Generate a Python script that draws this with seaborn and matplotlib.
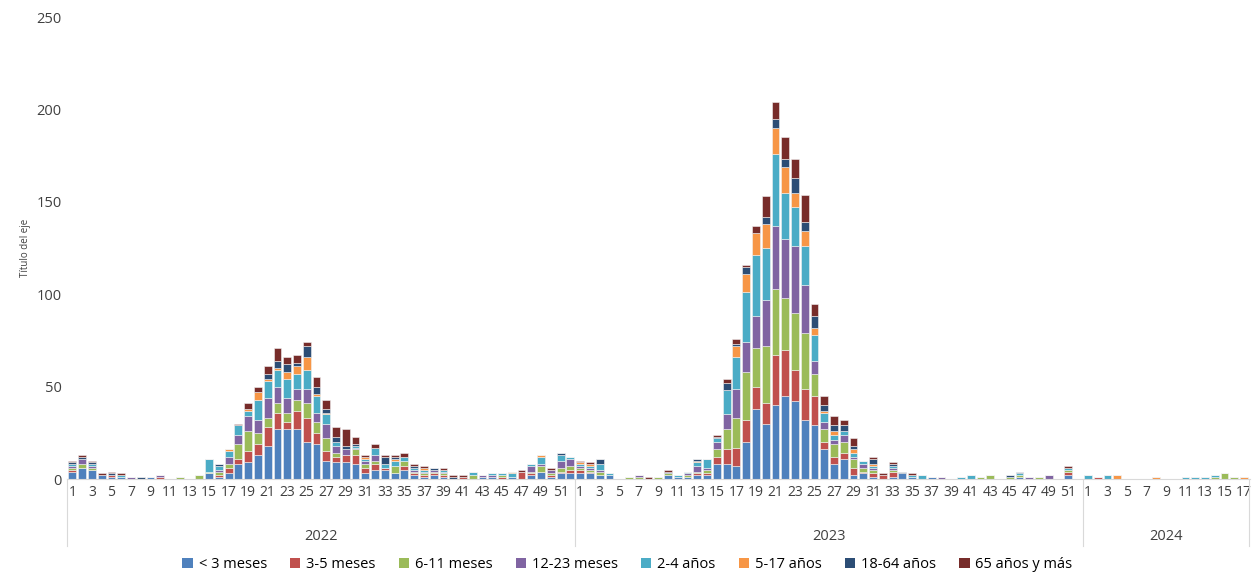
import numpy as np
import pandas as pd
import seaborn as sns
import matplotlib.pyplot as plt
from matplotlib.patches import Patch

groups = ["< 3 meses", "3-5 meses", "6-11 meses", "12-23 meses", "2-4 años",
          "5-17 años", "18-64 años", "65 años y más"]
colors = ["#4F81BD", "#C0504D", "#9BBB59", "#8064A2", "#4BACC6", "#F79646",
          "#2C4D75", "#772C2A"]
years = [2022, 2023, 2024]
n_weeks = [52, 52, 17]

# casos por semana epidemiológica (2022 + 2023 + 2024)
lt3 = [4,6,5,2,1,1,0,0,1,0, 0,0,0,0,3,1,3,8,9,13, 18,27,27,27,20,19,10,9,9,8, 3,5,5,3,5,2,1,2,1,0, 0,0,1,1,0,1,0,2,4,1, 3,3,
       3,3,2,2,0,0,0,0,0,2, 1,1,2,2,8,8,7,20,38,30, 40,45,42,32,29,16,8,11,2,3, 1,0,1,3,1,0,1,0,0,0, 0,0,0,0,0,1,0,0,0,0, 2,0,
       0,0,0,0,0,0,0,0,0,0, 0,0,0,0,0,0,0]
m3_5 = [1,0,0,0,1,0,0,0,0,1, 0,0,0,0,0,1,3,3,6,6, 10,9,4,10,13,6,5,3,4,5, 3,3,1,0,2,1,1,1,1,0, 1,0,0,0,1,0,4,1,0,1, 1,2,
        2,1,0,0,0,0,0,0,0,0, 0,0,1,1,4,8,10,12,12,11, 27,25,17,17,16,4,4,3,4,1, 2,2,3,0,0,0,0,0,0,0, 0,0,0,0,0,0,0,0,0,0, 2,0,
        0,1,0,0,0,0,0,0,0,0, 0,0,0,0,0,0,0]
m6_11 = [1,2,1,0,0,0,0,0,0,0, 0,1,0,2,1,2,2,8,11,6, 5,5,5,6,8,6,7,2,0,3, 2,2,0,4,3,1,1,1,1,0, 0,2,0,0,1,0,0,1,3,1, 2,2,
         1,1,2,0,0,1,1,0,1,1, 0,1,1,2,4,11,16,26,21,31, 36,28,31,30,12,7,7,6,5,2, 2,0,1,0,0,0,0,0,0,0, 0,1,2,0,1,1,0,1,0,0, 1,0,
         0,0,0,0,0,0,0,0,0,0, 0,0,0,1,3,1,0]
m12_23 = [1,3,1,0,0,0,1,0,0,1, 0,0,0,0,0,1,4,5,8,7, 11,9,8,6,8,5,8,4,3,1, 2,3,0,0,0,1,1,1,1,0, 0,0,1,1,0,0,0,3,1,2, 4,4,
          1,1,1,0,0,0,1,0,0,0, 0,1,3,1,4,8,16,16,17,25, 34,32,36,26,7,4,2,4,1,2, 1,0,1,0,0,0,0,1,0,0, 0,0,0,0,0,0,1,0,2,0, 0,0,
          0,0,0,0,0,0,0,0,0,0, 0,0,0,0,0,0,0]
a2_4 = [1,0,1,0,0,1,0,0,0,0, 0,0,0,0,7,2,3,5,3,11, 9,9,10,8,10,9,5,2,0,1, 1,4,2,3,2,1,1,0,1,0, 0,2,0,1,1,2,0,1,4,0, 3,1,
        1,1,3,1,0,0,0,0,0,0, 1,1,2,5,2,13,17,27,33,28, 39,25,21,21,14,5,3,2,2,2, 1,0,1,0,1,2,0,0,0,1, 2,0,0,0,0,1,0,0,0,0, 1,0,
        2,0,2,0,0,0,0,0,0,0, 1,1,1,1,0,0,0]
a5_17 = [0,0,0,0,0,0,0,0,0,0, 0,0,0,0,0,0,1,0,1,4, 1,1,4,4,7,1,1,0,0,0, 1,0,0,1,0,0,1,0,0,0, 0,0,0,0,0,1,0,0,1,0, 0,0,
         1,1,0,0,0,0,0,0,0,0, 0,0,1,0,0,0,6,10,12,13, 14,14,8,8,4,1,2,0,2,0, 1,0,0,0,0,0,0,0,0,0, 0,0,0,0,0,0,0,0,0,0, 0,0,
         0,0,0,2,0,0,0,1,0,0, 0,0,0,0,0,0,1]
a18_64 = [1,1,1,0,1,0,0,1,0,0, 0,0,0,0,0,1,0,0,0,0, 3,4,4,2,6,4,2,3,2,1, 0,0,4,1,0,1,0,1,0,1, 0,0,0,0,0,0,0,0,0,0, 1,0,
          0,0,3,0,0,0,0,0,0,1, 0,0,1,0,1,4,1,4,0,4, 5,4,8,5,6,3,3,3,2,0, 3,0,1,1,0,0,0,0,0,0, 0,0,0,0,1,1,0,0,0,0, 0,0,
          0,0,0,0,0,0,0,0,0,0, 0,0,0,0,0,0,0]
a65 = [1,1,1,1,1,1,0,0,0,0, 0,0,0,0,0,0,0,1,3,3, 4,7,4,4,2,5,5,5,9,4, 1,2,1,1,2,1,1,0,1,1, 1,0,0,0,0,0,1,0,0,1, 0,0,
       1,1,0,0,0,0,0,1,0,1, 0,0,0,0,1,2,3,1,4,11, 9,12,10,15,7,5,5,3,4,0, 1,1,1,0,1,0,0,0,0,0, 0,0,0,0,0,0,0,0,0,0, 1,0,
       0,0,0,0,0,0,0,0,0,0, 0,0,0,0,0,0,0]

series = [lt3, m3_5, m6_11, m12_23, a2_4, a5_17, a18_64, a65]
weeks = [w for n in n_weeks for w in range(1, n + 1)]
pos = np.arange(len(weeks))
df = pd.concat([pd.DataFrame({"pos": pos, "week": weeks, "casos": s, "grupo": g})
                for g, s in zip(groups, series)])

plt.rcParams["font.family"] = ["Open Sans", "DejaVu Sans"]
fig = plt.figure(figsize=(12.55, 5.73), dpi=100)
ax = fig.add_axes([0.053, 0.164, 0.943, 0.806])
# seaborn stacks the last hue at the bottom, so pass the order reversed
sns.histplot(data=df, x="pos", weights="casos", hue="grupo", hue_order=groups[::-1],
             palette=colors[::-1], multiple="stack", discrete=True, shrink=0.8,
             alpha=1, edgecolor="#F2F2F2", linewidth=0.4, legend=False, ax=ax)

ax.set_xlim(-0.6, len(weeks) - 0.4)
ax.set_ylim(0, 250)
ax.set_yticks(range(0, 251, 50))
ax.tick_params(axis="y", length=0, labelsize=10.5, colors="#404040")
odd = [i for i, w in enumerate(weeks) if w % 2 == 1]
ax.set_xticks(odd)
ax.set_xticklabels([weeks[i] for i in odd], fontsize=10, color="#404040")
ax.tick_params(axis="x", length=0, pad=4)
ax.set_xlabel("")
ax.set_ylabel("Título del eje", fontsize=7, color="#404040")
for s in ["top", "right", "left"]:
    ax.spines[s].set_visible(False)
ax.spines["bottom"].set_color("#D9D9D9")
ax.grid(False)

trans = ax.get_xaxis_transform()
start = 0
bounds = [-0.5]
for y, n in zip(years, n_weeks):
    ax.text(start + (n - 1) / 2, -0.125, str(y), transform=trans, ha="center",
            va="center", fontsize=10.5, color="#404040")
    start += n
    bounds.append(start - 0.5)
for b in bounds:
    ax.plot([b, b], [0, -0.145], transform=trans, color="#D9D9D9", lw=0.8, clip_on=False)

handles = [Patch(facecolor=c, label=g) for g, c in zip(groups, colors)]
fig.legend(handles=handles, loc="center", bbox_to_anchor=(0.5, 0.015), ncol=8,
           frameon=False, fontsize=10.5, handlelength=0.7, handleheight=0.7,
           columnspacing=1.6, handletextpad=0.4)
fig.savefig("out.png", dpi=100)
